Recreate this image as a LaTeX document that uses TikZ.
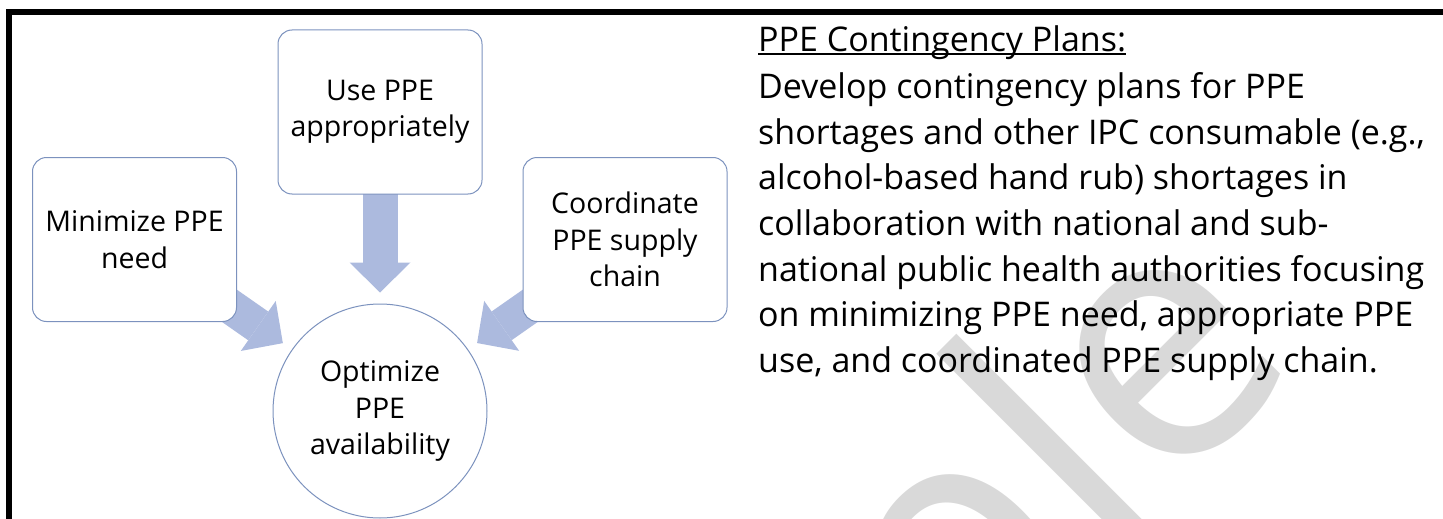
\documentclass[tikz,border=0pt]{standalone}
\usepackage{fontspec}
\setmainfont{Open Sans}
\usetikzlibrary{arrows.meta,backgrounds}
\definecolor{boxline}{RGB}{124,146,190}
\definecolor{feedfill}{RGB}{172,186,222}
\definecolor{stampgray}{RGB}{217,217,217}
\tikzset{
  goal/.style={draw=boxline, fill=white, line width=1pt, rounded corners=14pt,
    minimum width=204pt, minimum height=164pt, inner sep=0pt, align=center,
    font=\fontsize{28.5}{36.5}\selectfont},
  hub/.style={circle, draw=boxline, fill=white, line width=1pt,
    minimum size=214pt, inner sep=0pt, align=center,
    font=\fontsize{28.5}{36.5}\selectfont},
  feed/.style={draw=feedfill, line width=35pt,
    -{Triangle[width=61pt,length=30pt,line width=0pt]}, shorten >=11pt},
  plan/.style={inner sep=0pt, align=left, font=\fontsize{34}{45.6}\selectfont}
}
\begin{document}
\begin{tikzpicture}[x=1pt,y=-1pt]
  \useasboundingbox (0,0) rectangle (1443,519);
  % goals around the hub
  \node[goal] (useppe) at (380,112) {Use PPE\\appropriately};
  \node[goal] (minimize) at (134.5,239.5) {Minimize PPE\\need};
  \node[goal] (coord) at (625,239.5) {Coordinate\\PPE supply\\chain};
  \node[hub] (optimize) at (380,411) {Optimize\\PPE\\availability};
  \begin{pgfonlayer}{background}
    \node[rotate=45, text=stampgray, inner sep=0pt, anchor=base east,
      font=\fontsize{350}{350}\selectfont] (stamp) at (1305,362) {Sample};
    \draw[feed] (minimize.center) -- (optimize);
    \draw[feed] (useppe.center) -- (optimize);
    \draw[feed] (coord.center) -- (optimize);
  \end{pgfonlayer}
  % text on the right
  \node[plan, anchor=base west] (title) at (758,52) {PPE Contingency Plans:};
  \draw[line width=2pt] ([yshift=-2pt]title.base west) -- ([yshift=-2pt]title.base east);
  \node[plan, anchor=north west] (body) at (758,72.5) {Develop contingency plans for PPE\\
    shortages and other IPC consumable (e.g.,\\
    alcohol-based hand rub) shortages in\\
    collaboration with national and sub-\\
    national public health authorities focusing\\
    on minimizing PPE need, appropriate PPE\\
    use, and coordinated PPE supply chain.};
  \draw[line width=6pt] (9,12) rectangle (1470,560);
\end{tikzpicture}
\end{document}
